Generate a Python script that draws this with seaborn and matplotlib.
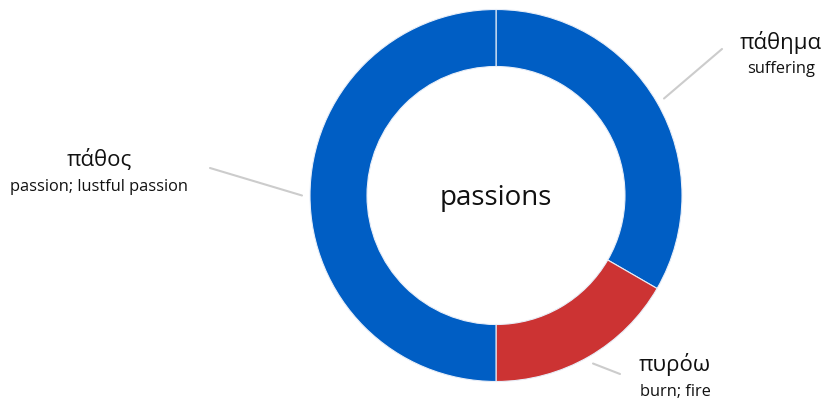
import numpy as np
import matplotlib
matplotlib.use("Agg")
import matplotlib.pyplot as plt
import seaborn as sns

# Data
labels = ["πάθημα", "πυρόω", "πάθος"]
glosses = ["suffering", "burn; fire", "passion; lustful passion"]
values = [2, 1, 3]
colors = ["#005ec4", "#cc3333", "#005ec4"]
center_label = "passions"

sns.set_theme(style="white")
plt.rcParams['font.family'] = ['Open Sans', 'DejaVu Sans']

W, H = 824, 402
fig = plt.figure(figsize=(W / 100, H / 100), dpi=100)
ax = fig.add_axes([0, 0, 1, 1])
ax.set_xlim(0, W)
ax.set_ylim(0, H)
ax.axis("off")

cx, cy = 496, H - 196.5
R = 186
ring = 57

wedges, _ = ax.pie(values, colors=colors, startangle=90, counterclock=False,
                   radius=R, center=(cx, cy),
                   wedgeprops=dict(width=ring, edgecolor="#e8eef8", linewidth=0.8, alpha=1))
ax.set_xlim(0, W)
ax.set_ylim(0, H)
ax.set_aspect("equal")

ax.text(cx, cy - 2, center_label, ha="center", va="center", fontsize=20, color="#111111")

# layout: label text positions and leader line end points (pixel coords, y down)
text_pos = [(781, 42), (675, 365), (99, 160)]
line_end = [(722, 50), (620, 375), (210, 169)]

for w, lab, gl, tp, le in zip(wedges, labels, glosses, text_pos, line_end):
    mid = np.deg2rad((w.theta1 + w.theta2) / 2)
    sx = cx + (R + 8) * np.cos(mid)
    sy = cy + (R + 8) * np.sin(mid)
    ax.plot([sx, le[0]], [sy, H - le[1]], color="#cccccc", lw=1.5, solid_capstyle="round")
    ax.text(tp[0], H - tp[1], lab, ha="center", va="center", fontsize=16, color="#111111")
    ax.text(tp[0], H - tp[1] - 27, gl, ha="center", va="center", fontsize=11.8, color="#111111")

fig.savefig("out.png", dpi=100, facecolor="white")
